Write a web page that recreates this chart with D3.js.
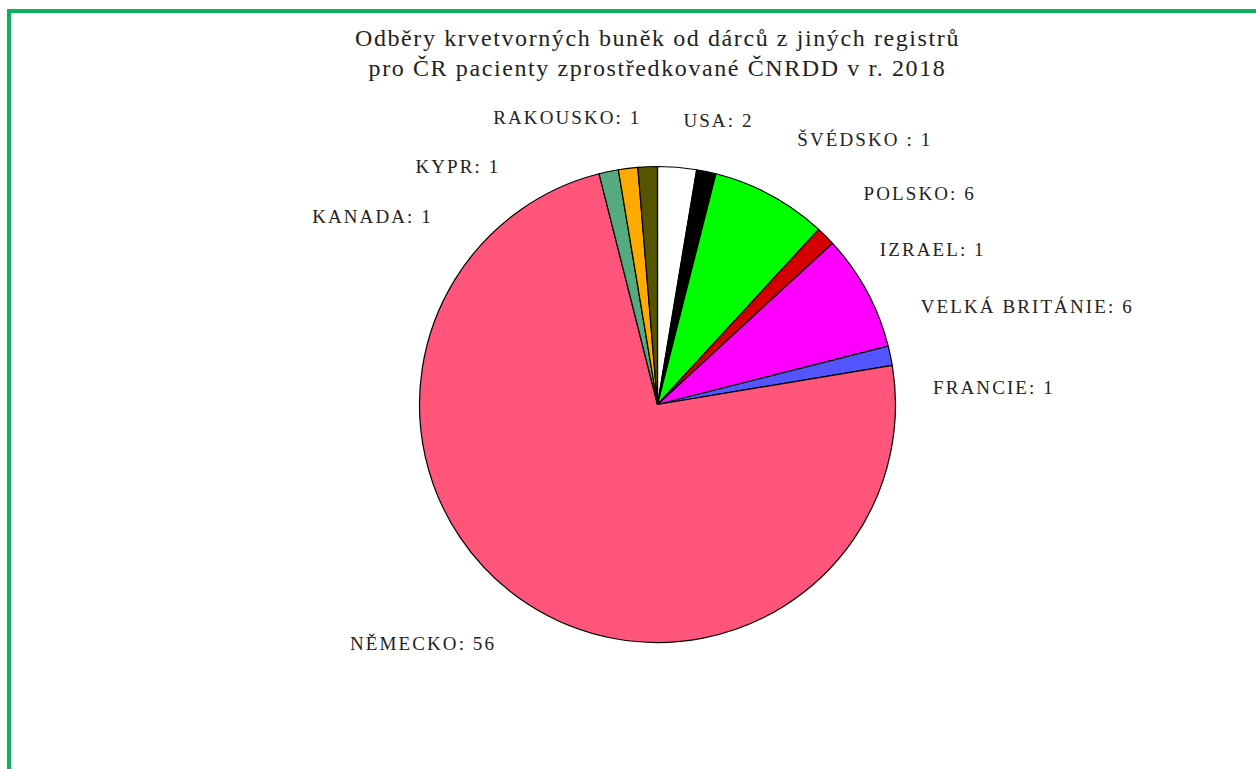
<!DOCTYPE html>
<html>
<head>
<meta charset="utf-8">
<script src="https://cdn.jsdelivr.net/npm/d3@7"></script>
<style>
  body { margin: 0; background: #fff; }
  svg { display: block; }
  text { font-family: "Liberation Serif", serif; fill: #222; }
</style>
</head>
<body>
<div class="chartContainer"></div>
<script>
var width = 1256;
var height = 769;

var titleLines = [
  "Odběry krvetvorných buněk od dárců z jiných registrů",
  "pro ČR pacienty zprostředkované ČNRDD v r. 2018"
];

var countries = ["USA", "ŠVÉDSKO ", "POLSKO", "IZRAEL", "VELKÁ BRITÁNIE", "FRANCIE", "NĚMECKO", "KANADA", "KYPR", "RAKOUSKO"];
var counts = [2, 1, 6, 1, 6, 1, 56, 1, 1, 1];
var colours = ["#ffffff", "#000000", "#00ff00", "#d40000", "#ff00ff", "#5555ff", "#ff557a", "#55aa80", "#ffaa00", "#555500"];

// where each label sits: angle (deg, clockwise from top) and distance as multiple of radius
var labelAngle = [5.2, 27.8, 44.3, 55, 69.6, 86.5, 214.1, 309.9, 326.6, 356.8];
var labelDist = [1.2, 1.26, 1.24, 1.14, 1.18, 1.16, 1.21, 1.23, 1.2, 1.21];

var cx = 657.5, cy = 404.5, radius = 238;

var svg = d3.select(".chartContainer")
  .append("svg")
  .attr("width", width)
  .attr("height", height);

// green frame
svg.append("rect")
  .attr("x", 9)
  .attr("y", 11)
  .attr("width", 1300)
  .attr("height", 900)
  .attr("fill", "none")
  .attr("stroke", "#0bb060")
  .attr("stroke-width", 4);

// title
svg.append("g")
  .selectAll("text")
  .data(titleLines)
  .enter()
  .append("text")
  .attr("x", cx)
  .attr("y", function (d, i) { return 46 + i * 30; })
  .attr("text-anchor", "middle")
  .style("font-size", "24px")
  .style("letter-spacing", "1.6px")
  .text(function (d) { return d; });

var data = countries.map(function (c, i) {
  return { name: c, value: counts[i], colour: colours[i], la: labelAngle[i], ld: labelDist[i] };
});

var pie = d3.pie()
  .sort(null)
  .value(function (d) { return d.value; });

var arc = d3.arc().innerRadius(0).outerRadius(radius);

var g = svg.append("g").attr("transform", "translate(" + cx + "," + cy + ")");

g.selectAll("path")
  .data(pie(data))
  .enter()
  .append("path")
  .attr("d", arc)
  .attr("fill", function (d) { return d.data.colour; })
  .attr("stroke", "#000")
  .attr("stroke-width", 1.2)
  .attr("stroke-linejoin", "round");

// labels
g.selectAll("text.label")
  .data(data)
  .enter()
  .append("text")
  .attr("class", "label")
  .attr("x", function (d) { return Math.sin(d.la * Math.PI / 180) * radius * d.ld; })
  .attr("y", function (d) { return -Math.cos(d.la * Math.PI / 180) * radius * d.ld; })
  .attr("dy", "0.35em")
  .attr("text-anchor", function (d) { return d.la > 180 ? "end" : "start"; })
  .style("font-size", "19px")
  .style("letter-spacing", "2.1px")
  .text(function (d) { return d.name + ": " + d.value; });
</script>
</body>
</html>
